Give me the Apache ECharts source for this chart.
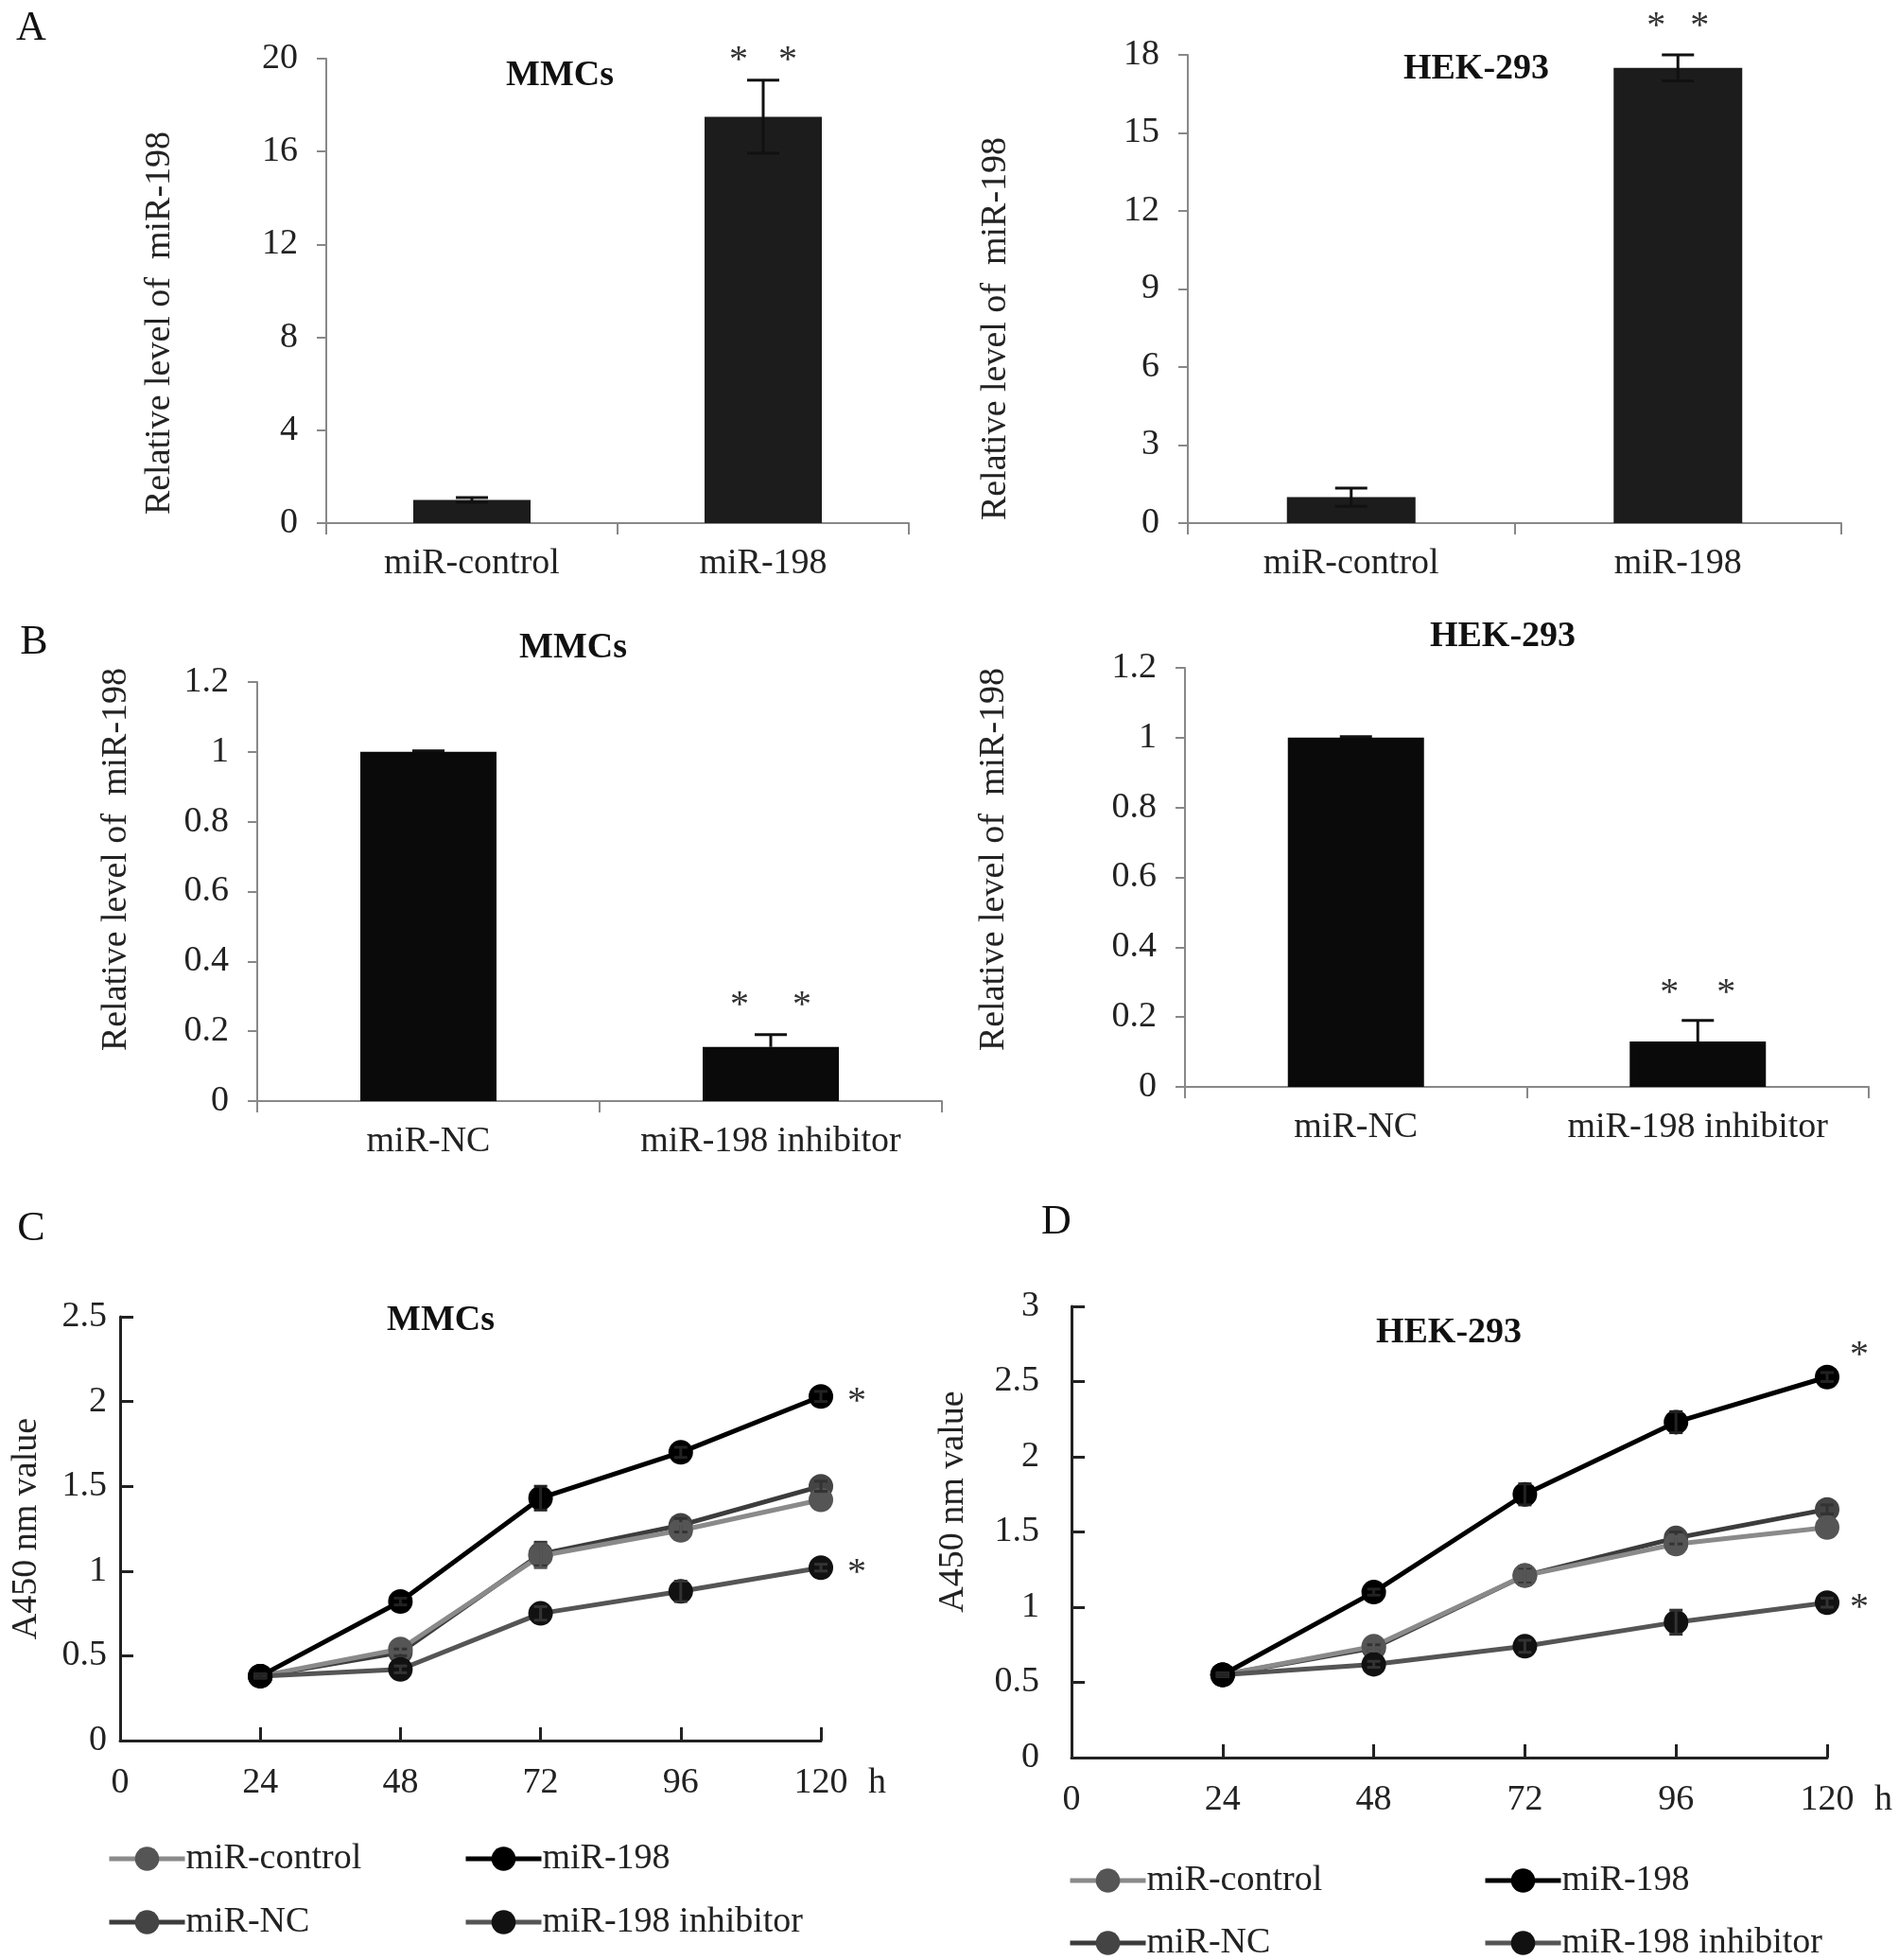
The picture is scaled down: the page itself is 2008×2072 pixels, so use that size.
<!DOCTYPE html>
<html>
<head>
<meta charset="utf-8">
<script src="https://cdn.jsdelivr.net/npm/echarts@6/dist/echarts.min.js"></script>
<style>
html,body{margin:0;padding:0;background:#fff;}
#chart{width:2008px;height:2072px;}
</style>
</head>
<body>
<div id="chart"></div>
<script>
// ---------- DATA ----------
const catsA = ['miR-control', 'miR-198'];
const catsB = ['miR-NC', 'miR-198 inhibitor'];

const mmcsOverVals = [1.0, 17.5];
const mmcsOverErr = [0.1, 1.57];
const hekOverVals = [1.0, 17.5];
const hekOverErr = [0.35, 0.5];

const mmcsInhVals = [1.0, 0.155];
const mmcsInhErr = [0.003, 0.035];
const hekInhVals = [1.0, 0.13];
const hekInhErr = [0.003, 0.06];

const hours = [24, 48, 72, 96, 120];
const hourTicks = [0, 24, 48, 72, 96, 120];

const seriesNames = ['miR-control', 'miR-198', 'miR-NC', 'miR-198 inhibitor'];

const mmcsControl = [0.38, 0.54, 1.09, 1.24, 1.42];
const mmcsControlErr = [0.01, 0.02, 0.07, 0.04, 0.03];
const mmcsMiR198 = [0.38, 0.82, 1.43, 1.70, 2.03];
const mmcsMiR198Err = [0.01, 0.02, 0.07, 0.03, 0.03];
const mmcsNC = [0.38, 0.52, 1.10, 1.27, 1.50];
const mmcsNCErr = [0.01, 0.02, 0.07, 0.04, 0.03];
const mmcsInhibitor = [0.38, 0.42, 0.75, 0.88, 1.02];
const mmcsInhibitorErr = [0.01, 0.02, 0.04, 0.06, 0.02];

const hekControl = [0.55, 0.74, 1.21, 1.42, 1.53];
const hekControlErr = [0.01, 0.03, 0.06, 0.05, 0.03];
const hekMiR198 = [0.55, 1.10, 1.75, 2.23, 2.53];
const hekMiR198Err = [0.01, 0.02, 0.07, 0.07, 0.03];
const hekNC = [0.55, 0.73, 1.21, 1.46, 1.65];
const hekNCErr = [0.01, 0.02, 0.05, 0.04, 0.03];
const hekInhibitor = [0.55, 0.62, 0.74, 0.90, 1.03];
const hekInhibitorErr = [0.01, 0.02, 0.04, 0.08, 0.03];

// significance marks (category index / hour, value the mark refers to)
const sigBarA1 = [[1, mmcsOverVals[1] + mmcsOverErr[1]]];
const sigBarA2 = [[1, hekOverVals[1] + hekOverErr[1]]];
const sigBarB1 = [[1, mmcsInhVals[1] + mmcsInhErr[1]]];
const sigBarB2 = [[1, hekInhVals[1] + hekInhErr[1]]];
const sigLineC = [[120, mmcsMiR198[4]], [120, mmcsInhibitor[4]]];
const sigLineD = [[120, hekMiR198[4]], [120, hekInhibitor[4]]];

// ---------- STYLE ----------
const FONT = '"Liberation Serif", "Times New Roman", serif';
const TXT = '#222';
const FS = 38;

const chart = echarts.init(document.getElementById('chart'), null, {renderer: 'canvas'});

function barX(idx, cats) {
  return {
    type: 'category', gridIndex: idx, data: cats,
    axisLine: {show: true, lineStyle: {color: '#888', width: 2}},
    axisTick: {show: true, length: 12, lineStyle: {color: '#888', width: 2}},
    axisLabel: {margin: 24, fontFamily: FONT, fontSize: FS, color: TXT},
    splitLine: {show: false}
  };
}
function barY(idx, max, interval, nameGap, pad) {
  return {
    type: 'value', gridIndex: idx, min: 0, max: max, interval: interval,
    name: 'Relative level of  miR-198', nameLocation: 'middle', nameGap: nameGap,
    nameTextStyle: {fontFamily: FONT, fontSize: FS, color: TXT, padding: pad},
    axisLine: {show: true, lineStyle: {color: '#888', width: 2}},
    axisTick: {show: true, length: 10, lineStyle: {color: '#888', width: 2}},
    axisLabel: {margin: 30, fontFamily: FONT, fontSize: FS, color: TXT},
    splitLine: {show: false}
  };
}
function lineX(idx, nameGap) {
  return {
    type: 'value', gridIndex: idx, min: 0, max: 120, interval: 24,
    name: 'h', nameLocation: 'end', nameGap: nameGap,
    nameTextStyle: {fontFamily: FONT, fontSize: FS, color: TXT, verticalAlign: 'top', padding: [26, 0, 0, 0]},
    axisLine: {show: true, lineStyle: {color: '#222', width: 3}},
    axisTick: {show: true, inside: true, length: 14, lineStyle: {color: '#222', width: 3}},
    axisLabel: {margin: 26, fontFamily: FONT, fontSize: FS, color: TXT,
      formatter: v => (hourTicks.indexOf(v) >= 0 ? String(v) : '')},
    splitLine: {show: false}
  };
}
function lineY(idx, max, nameGap, labelMargin, pad) {
  return {
    type: 'value', gridIndex: idx, min: 0, max: max, interval: 0.5,
    name: 'A450 nm value', nameLocation: 'middle', nameGap: nameGap,
    nameTextStyle: {fontFamily: FONT, fontSize: FS, color: TXT, padding: pad},
    axisLine: {show: true, lineStyle: {color: '#222', width: 3}},
    axisTick: {show: true, inside: true, length: 14, lineStyle: {color: '#222', width: 3}},
    axisLabel: {margin: labelMargin, fontFamily: FONT, fontSize: FS, color: TXT},
    splitLine: {show: false}
  };
}

function errSeries(idx, xs, vals, errs, capHalf, color, lw, onlyUp) {
  return {
    type: 'custom', xAxisIndex: idx, yAxisIndex: idx, z: 10, silent: true,
    data: vals.map((v, i) => [xs[i], v, errs[i]]),
    encode: {x: 0, y: 1},
    renderItem: function (params, api) {
      const x = api.value(0), v = api.value(1), e = api.value(2);
      const top = api.coord([x, v + e]);
      const bot = api.coord([x, onlyUp ? v : v - e]);
      const st = {stroke: color, lineWidth: lw};
      const children = [
        {type: 'line', shape: {x1: top[0], y1: top[1], x2: bot[0], y2: bot[1]}, style: st},
        {type: 'line', shape: {x1: top[0] - capHalf, y1: top[1], x2: top[0] + capHalf, y2: top[1]}, style: st}
      ];
      if (!onlyUp) children.push({type: 'line', shape: {x1: bot[0] - capHalf, y1: bot[1], x2: bot[0] + capHalf, y2: bot[1]}, style: st});
      return {type: 'group', children: children};
    }
  };
}

function starSeries(idx, data, text, dx, dy) {
  return {
    type: 'custom', xAxisIndex: idx, yAxisIndex: idx, z: 20, silent: true,
    data: data, encode: {x: 0, y: 1},
    renderItem: function (params, api) {
      const p = api.coord([api.value(0), api.value(1)]);
      return {type: 'text', x: p[0] + dx, y: p[1] + dy,
        style: {text: text, fontFamily: FONT, fontSize: 40, fill: '#333', align: 'center', verticalAlign: 'middle'}};
    }
  };
}

function barSeries(idx, vals, color, width) {
  return {type: 'bar', xAxisIndex: idx, yAxisIndex: idx, data: vals, barWidth: width,
    itemStyle: {color: color}, silent: true};
}

function lineSeries(idx, name, vals, lineColor, markColor, z) {
  return {
    type: 'line', name: name, xAxisIndex: idx, yAxisIndex: idx, z: z,
    data: vals.map((v, i) => [hours[i], v]),
    symbol: 'circle', symbolSize: 26, showSymbol: true,
    lineStyle: {color: lineColor, width: 5},
    itemStyle: {color: markColor, borderWidth: 0},
    silent: true
  };
}

const colors = {
  'miR-control': ['#8a8a8a', '#555555'],
  'miR-198': ['#000000', '#000000'],
  'miR-NC': ['#3c3c3c', '#444444'],
  'miR-198 inhibitor': ['#555555', '#111111']
};

function legendItem(name, left, top) {
  return {
    data: [name], left: left, top: top, orient: 'horizontal', padding: 0,
    itemWidth: 80, itemHeight: 32, itemGap: 0, selectedMode: false,
    lineStyle: {width: 5},
    textStyle: {fontFamily: FONT, fontSize: FS, color: TXT, padding: [0, 0, 0, -4]}
  };
}

function textEl(text, x, y, size, bold) {
  return {type: 'text', x: x, y: y, silent: true,
    style: {text: text, fontFamily: FONT, fontSize: size, fontWeight: bold ? 'bold' : 'normal',
      fill: '#111', align: 'center', verticalAlign: 'middle'}};
}

const option = {
  backgroundColor: '#ffffff',
  animation: false,
  grid: [
    {left: 345, top: 62, width: 616, height: 491},
    {left: 1256, top: 58, width: 691, height: 495},
    {left: 272, top: 721, width: 724, height: 443},
    {left: 1253, top: 706, width: 723, height: 443},
    {left: 127, top: 1392, width: 741, height: 448},
    {left: 1133, top: 1381, width: 799, height: 477}
  ],
  xAxis: [
    barX(0, catsA), barX(1, catsA), barX(2, catsB), barX(3, catsB),
    lineX(4, 50), lineX(5, 50)
  ],
  yAxis: [
    barY(0, 20, 4, 157, [0, 68, 0, 0]),
    barY(1, 18, 3, 184, [0, 84, 0, 0]),
    barY(2, 1.2, 0.2, 130, [0, 0, 0, 68]),
    barY(3, 1.2, 0.2, 183, [0, 0, 0, 38]),
    lineY(4, 2.5, 80, 14, [0, 0, 0, 0]),
    lineY(5, 3, 106, 34, [0, 0, 0, 64])
  ],
  legend: [
    legendItem('miR-control', 113, 1946),
    legendItem('miR-198', 490, 1946),
    legendItem('miR-NC', 113, 2013),
    legendItem('miR-198 inhibitor', 490, 2013),
    legendItem('miR-control', 1129, 1969),
    legendItem('miR-198', 1568, 1969),
    legendItem('miR-NC', 1129, 2035),
    legendItem('miR-198 inhibitor', 1568, 2035)
  ],
  graphic: [
    textEl('A', 33, 30, 44, false),
    textEl('B', 36, 679, 44, false),
    textEl('C', 33, 1299, 44, false),
    textEl('D', 1117, 1292, 44, false),
    textEl('MMCs', 592, 80, 38, true),
    textEl('HEK-293', 1561, 73, 38, true),
    textEl('MMCs', 606, 685, 38, true),
    textEl('HEK-293', 1589, 673, 38, true),
    textEl('MMCs', 466, 1396, 38, true),
    textEl('HEK-293', 1532, 1409, 38, true)
  ],
  series: [
    barSeries(0, mmcsOverVals, '#1c1c1c', 124),
    errSeries(0, [0, 1], mmcsOverVals, mmcsOverErr, 17, '#111', 3, false),
    starSeries(0, sigBarA1, '*', -26, -20),
    starSeries(0, sigBarA1, '*', 26, -20),

    barSeries(1, hekOverVals, '#1c1c1c', 136),
    errSeries(1, [0, 1], hekOverVals, hekOverErr, 17, '#111', 3, false),
    starSeries(1, sigBarA2, '*', -23, -30),
    starSeries(1, sigBarA2, '*', 23, -30),

    barSeries(2, mmcsInhVals, '#0a0a0a', 144),
    errSeries(2, [0, 1], mmcsInhVals, mmcsInhErr, 17, '#111', 3, true),
    starSeries(2, sigBarB1, '*', -33, -30),
    starSeries(2, sigBarB1, '*', 33, -30),

    barSeries(3, hekInhVals, '#0a0a0a', 144),
    errSeries(3, [0, 1], hekInhVals, hekInhErr, 17, '#111', 3, true),
    starSeries(3, sigBarB2, '*', -30, -28),
    starSeries(3, sigBarB2, '*', 30, -28),

    // Panel C (MMCs)
    lineSeries(4, 'miR-NC', mmcsNC, colors['miR-NC'][0], colors['miR-NC'][1], 3),
    lineSeries(4, 'miR-control', mmcsControl, colors['miR-control'][0], colors['miR-control'][1], 4),
    lineSeries(4, 'miR-198 inhibitor', mmcsInhibitor, colors['miR-198 inhibitor'][0], colors['miR-198 inhibitor'][1], 5),
    lineSeries(4, 'miR-198', mmcsMiR198, colors['miR-198'][0], colors['miR-198'][1], 6),
    errSeries(4, hours, mmcsNC, mmcsNCErr, 7, '#333', 3, false),
    errSeries(4, hours, mmcsControl, mmcsControlErr, 7, '#555', 3, false),
    errSeries(4, hours, mmcsInhibitor, mmcsInhibitorErr, 7, '#333', 3, false),
    errSeries(4, hours, mmcsMiR198, mmcsMiR198Err, 7, '#222', 3, false),
    starSeries(4, sigLineC, '*', 38, 6),

    // Panel D (HEK-293)
    lineSeries(5, 'miR-NC', hekNC, colors['miR-NC'][0], colors['miR-NC'][1], 3),
    lineSeries(5, 'miR-control', hekControl, colors['miR-control'][0], colors['miR-control'][1], 4),
    lineSeries(5, 'miR-198 inhibitor', hekInhibitor, colors['miR-198 inhibitor'][0], colors['miR-198 inhibitor'][1], 5),
    lineSeries(5, 'miR-198', hekMiR198, colors['miR-198'][0], colors['miR-198'][1], 6),
    errSeries(5, hours, hekNC, hekNCErr, 7, '#333', 3, false),
    errSeries(5, hours, hekControl, hekControlErr, 7, '#555', 3, false),
    errSeries(5, hours, hekInhibitor, hekInhibitorErr, 7, '#333', 3, false),
    errSeries(5, hours, hekMiR198, hekMiR198Err, 7, '#222', 3, false),
    starSeries(5, [sigLineD[0]], '*', 34, -22),
    starSeries(5, [sigLineD[1]], '*', 34, 6)
  ]
};

chart.setOption(option);
</script>
</body>
</html>
